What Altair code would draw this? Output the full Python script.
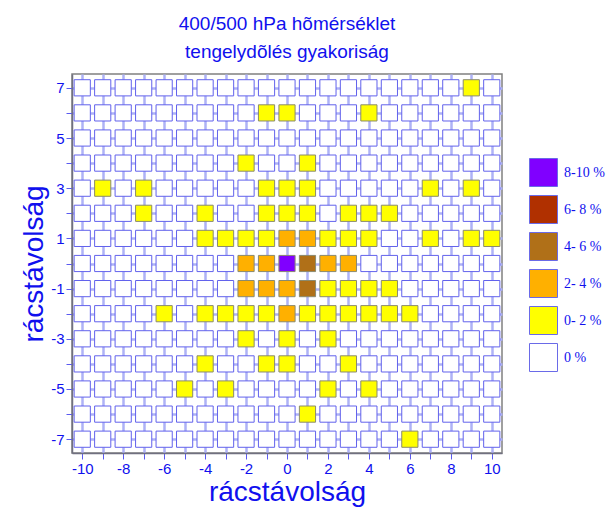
import altair as alt
import pandas as pd

# ---- data ----
x_values = list(range(-10, 11))
y_values = list(range(-7, 8))

categories = ["8-10 %", "6- 8 %", "4- 6 %", "2- 4 %", "0- 2 %", "\u2007\u2007 0 %"]
cat_colors = ["#8000ff", "#b03000", "#b07018", "#ffb000", "#ffff00", "#ffffff"]

purple_x = [0]
purple_y = [0]

brown_x = [1, 1]
brown_y = [0, -1]

orange_x = [0, 1, -2, -1, 2, 3, -2, -1, 0, 0]
orange_y = [1, 1, 0, 0, 0, 0, -1, -1, -1, -2]

yellow_x = [9,
            -1, 0, 4,
            -2, 1,
            -9, -7, -1, 0, 1, 7, 9,
            -7, -4, -1, 0, 1, 3, 4, 5,
            -4, -3, -2, -1, 2, 3, 4, 7, 9, 10,
            2, 3, 4, 5,
            -6, -4, -3, -2, -1, 1, 2, 3, 4, 5, 6,
            -2, 0, 2,
            -4, -1, 0, 3,
            -5, -3, 2, 4,
            1,
            6]
yellow_y = [7,
            6, 6, 6,
            4, 4,
            3, 3, 3, 3, 3, 3, 3,
            2, 2, 2, 2, 2, 2, 2, 2,
            1, 1, 1, 1, 1, 1, 1, 1, 1, 1,
            -1, -1, -1, -1,
            -2, -2, -2, -2, -2, -2, -2, -2, -2, -2, -2,
            -3, -3, -3,
            -4, -4, -4, -4,
            -5, -5, -5, -5,
            -6,
            -7]

lookup = {}
for xs, ys, c in [(yellow_x, yellow_y, categories[4]),
                  (orange_x, orange_y, categories[3]),
                  (brown_x, brown_y, categories[2]),
                  (purple_x, purple_y, categories[0])]:
    for a, b in zip(xs, ys):
        lookup[(a, b)] = c

rows = []
for yy in y_values:
    for xx in x_values:
        rows.append({"x": xx, "y": yy, "cat": lookup.get((xx, yy), categories[5])})
df = pd.DataFrame(rows)

BLUE = "#1010ee"
FONT = "Liberation Sans"

axis_style = dict(titleFontSize=28, titleFontWeight="normal",
                  titleColor=BLUE, titleFont=FONT, titlePadding=2,
                  labelFontSize=15, labelColor=BLUE, labelFont=FONT,
                  tickColor="#5a5af0", tickSize=6, labelPadding=2,
                  grid=True, gridColor="#aeb2f6", gridWidth=2.5,
                  domainColor="#707080", domainWidth=1.5)

chart = alt.Chart(df).mark_square(size=262, opacity=1, strokeWidth=1).encode(
    x=alt.X("x:Q",
            scale=alt.Scale(domain=[-10.5, 10.5], nice=False, zero=False),
            axis=alt.Axis(values=x_values,
                          labelExpr="datum.value % 2 == 0 ? '' + datum.value : ''",
                          title="rácstávolság", **axis_style)),
    y=alt.Y("y:Q",
            scale=alt.Scale(domain=[-7.55, 7.55], nice=False, zero=False),
            axis=alt.Axis(values=y_values,
                          labelExpr="abs(datum.value) % 2 == 1 ? '' + datum.value : ''",
                          title="rácstávolság", **axis_style)),
    fill=alt.Fill("cat:N",
                  scale=alt.Scale(domain=categories, range=cat_colors),
                  sort=categories,
                  legend=alt.Legend(title=None, orient="none", legendX=457, legendY=84,
                                    symbolType="square", symbolSize=784,
                                    symbolStrokeColor="#6a6ae8", symbolStrokeWidth=1,
                                    symbolOpacity=1,
                                    labelFont="Liberation Serif", labelFontSize=14,
                                    labelColor=BLUE, labelOffset=6, rowPadding=4,
                                    padding=0)),
    stroke=alt.condition(alt.datum.cat == categories[5], alt.value("#6262ec"), alt.value("#8a8a70")),
).properties(
    width=430,
    height=379,
    background="white",
    title=alt.TitleParams(["400/500 hPa hõmérséklet", "tengelydõlés gyakoriság"],
                          fontSize=19, fontWeight="normal", color=BLUE, font=FONT,
                          lineHeight=28, anchor="middle", offset=12),
    autosize=alt.AutoSizeParams(type="none"),
    padding={"left": 64, "top": 66, "right": 104, "bottom": 54},
).configure_axis(
    labelFont=FONT, titleFont=FONT
).configure_view(
    stroke="#808080", strokeWidth=1.5
)

chart.save("out.html", embed_options={"renderer": "svg", "actions": False})
